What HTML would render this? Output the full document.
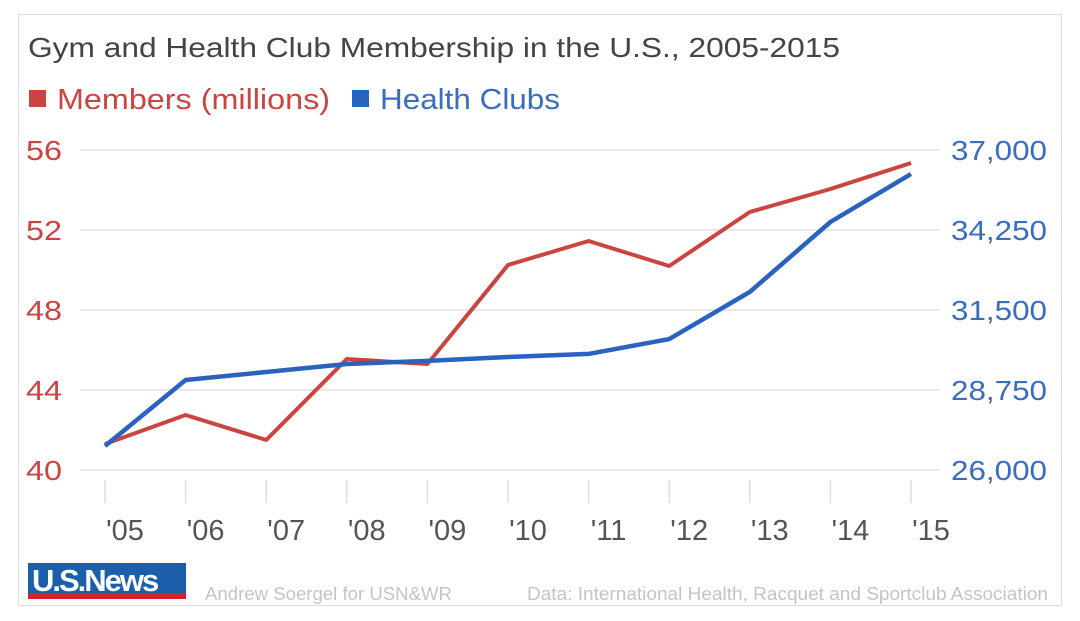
<!DOCTYPE html>
<html><head><meta charset="utf-8"><style>
html,body{margin:0;padding:0;background:#fff;}
body{width:1080px;height:621px;position:relative;overflow:hidden;font-family:"Liberation Sans",sans-serif;}
#card{position:absolute;left:18px;top:14px;width:1042px;height:590px;border:1px solid #ddd;background:#fff;}
</style></head><body>
<div id="card"></div>
<svg id="chart" width="1080" height="621" style="position:absolute;left:0;top:0">
<text x="28" y="57" font-size="28" fill="#444" textLength="812" lengthAdjust="spacingAndGlyphs">Gym and Health Club Membership in the U.S., 2005-2015</text>
<g>
<rect x="29" y="90" width="17" height="17" fill="#cc4440"/>
<text x="57" y="109" font-size="29" fill="#cc4440" textLength="273" lengthAdjust="spacingAndGlyphs">Members (millions)</text>
<rect x="352" y="90" width="17" height="17" fill="#2a62c0"/>
<text x="380" y="109" font-size="29" fill="#3a6cc0" textLength="180" lengthAdjust="spacingAndGlyphs">Health Clubs</text>
</g>
<g id="grid"></g><g id="axes"></g><g id="series"></g>
<g>
<rect x="28" y="563" width="158" height="30" fill="#1b5faa"/>
<rect x="28" y="593" width="158" height="6" fill="#d0232b"/>
<text x="32" y="591" font-size="31" font-weight="bold" fill="#fff" letter-spacing="-2">U.S.News</text>
</g>
<text x="205" y="600" font-size="18" fill="#c4c4c4" textLength="247" lengthAdjust="spacingAndGlyphs">Andrew Soergel for USN&amp;WR</text>
<text x="527" y="600" font-size="18" fill="#c4c4c4" textLength="521" lengthAdjust="spacingAndGlyphs">Data: International Health, Racquet and Sportclub Association</text>
</svg>
<script>
const categories=["'05","'06","'07","'08","'09","'10","'11","'12","'13","'14","'15"];
const members=[41.3,42.75,41.5,45.55,45.3,50.25,51.45,50.2,52.9,54.05,55.35];
const clubs=[26825,29094,29370,29645,29750,29885,29990,30500,32120,34525,36175];
const leftTicks=[40,44,48,52,56];
const rightTicks=[26000,28750,31500,34250,37000];
const NS="http://www.w3.org/2000/svg";
const x0=105,x1=911,yTop=150,yBot=470;
const xs=i=>x0+(x1-x0)*i/(categories.length-1);
const yl=v=>yBot-(v-40)/(56-40)*(yBot-yTop);
const yr=v=>yBot-(v-26000)/(37000-26000)*(yBot-yTop);
function mk(t,a,p){const e=document.createElementNS(NS,t);for(const k in a)e.setAttribute(k,a[k]);p.appendChild(e);return e;}
const grid=document.getElementById('grid'),axes=document.getElementById('axes'),ser=document.getElementById('series');
leftTicks.forEach((v,i)=>{
 const l=mk('line',{x1:80,x2:940,y1:yl(v),y2:yl(v),stroke:'#e2e2e2','stroke-width':1.5},grid);
 
 
 const t=mk('text',{x:26,y:yl(v)+10,'font-size':28,fill:'#cc4440',textLength:36,lengthAdjust:'spacingAndGlyphs'},axes);t.textContent=v;
 
 
});
rightTicks.forEach(v=>{
 const t=mk('text',{x:951,y:yr(v)+10,'font-size':28,fill:'#3a6cc0',textLength:96,lengthAdjust:'spacingAndGlyphs'},axes);t.textContent=v.toLocaleString('en-US');
 
 
});
categories.forEach((c,i)=>{
 const tk=mk('line',{x1:xs(i),x2:xs(i),y1:480,y2:503,stroke:'#ddd','stroke-width':1.5},axes);
 
 
 const t=mk('text',{x:xs(i)+20,y:540,'font-size':29,fill:'#555','text-anchor':'middle'},axes);t.textContent=c;
 
 
});
const pr=mk('polyline',{points:members.map((v,i)=>xs(i)+','+yl(v)).join(' '),fill:'none',stroke:'#cc4440','stroke-width':4,'stroke-linejoin':'round'},ser);


const pb=mk('polyline',{points:clubs.map((v,i)=>xs(i)+','+yr(v)).join(' '),fill:'none',stroke:'#2a62c0','stroke-width':4.5,'stroke-linejoin':'round'},ser);


</script>
</body></html>
